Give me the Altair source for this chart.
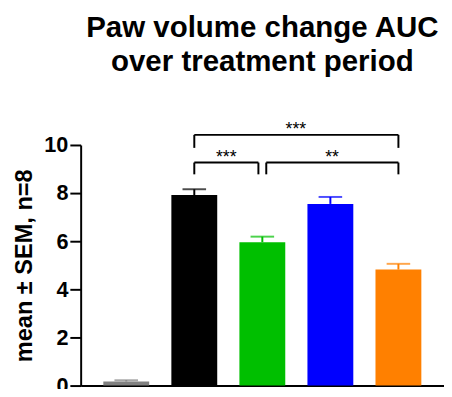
import altair as alt
import pandas as pd

groups = ["Naive", "Vehicle", "Treatment A", "Treatment B", "Treatment C"]
means = [0.17, 7.92, 5.96, 7.55, 4.82]
sems = [0.05, 0.24, 0.23, 0.29, 0.24]
colors = ["#808080", "#000000", "#00BF00", "#0000FF", "#FF8000"]

# significance brackets: (left group, right group, bar height, leg bottom, label, left px offset, right px offset)
brackets = [
    ("Vehicle", "Treatment C", 10.42, 9.88, "***", 0, 0),
    ("Vehicle", "Treatment A", 9.27, 8.78, "***", 0, -4),
    ("Treatment A", "Treatment C", 9.27, 8.78, "**", 4, 0),
]

df = pd.DataFrame({"group": groups, "mean": means, "sem": sems})
df["upper"] = df["mean"] + df["sem"]

FONT = "Liberation Sans"
STEP = 69

xscale = alt.Scale(domain=groups, paddingInner=0.326, paddingOuter=0.333)
yscale = alt.Scale(domain=[0, 10])
cscale = alt.Scale(domain=groups, range=colors)

x = alt.X("group:N", scale=xscale, sort=groups,
          axis=alt.Axis(title=None, labels=False, ticks=False, domainWidth=2, domainColor="black"))
y = alt.Y("mean:Q", scale=yscale,
          axis=alt.Axis(title="mean ± SEM, n=8", values=[0, 2, 4, 6, 8, 10], grid=False,
                        domainWidth=2, domainColor="black", tickWidth=2, tickColor="black",
                        tickSize=11, labelFont=FONT, labelFontSize=22, labelFontWeight="bold",
                        labelColor="black", labelPadding=2, titleFont=FONT, titleFontSize=24,
                        titleFontWeight="bold", titleColor="black", titlePadding=8))
color = alt.Color("group:N", scale=cscale, legend=None)

base = alt.Chart(df)
bars = base.mark_bar().encode(x=x, y=y, color=color)
stems = base.mark_rule(strokeWidth=2).encode(x=x, y="mean:Q", y2="upper:Q", color=color)
caps = base.mark_tick(size=24, thickness=2).encode(x=x, y="upper:Q", color=color)

layers = [bars, stems, caps]
for (g1, g2, top, low, lab, o1, o2) in brackets:
    bdf = pd.DataFrame({"g1": [g1], "g2": [g2], "top": [top], "low": [low], "lab": [lab],
                        "tx": [top + 0.18]})
    bc = alt.Chart(bdf)
    layers.append(bc.mark_rule(color="black", strokeWidth=2, xOffset=o1, x2Offset=o2).encode(
        x=alt.X("g1:N", scale=xscale), x2="g2:N", y=alt.Y("top:Q", scale=yscale)))
    layers.append(bc.mark_rule(color="black", strokeWidth=2, xOffset=o1).encode(
        x=alt.X("g1:N", scale=xscale), y=alt.Y("top:Q", scale=yscale), y2="low:Q"))
    layers.append(bc.mark_rule(color="black", strokeWidth=2, xOffset=o2).encode(
        x=alt.X("g2:N", scale=xscale), y=alt.Y("top:Q", scale=yscale), y2="low:Q"))
    dx = (groups.index(g2) - groups.index(g1)) / 2 * STEP + (o1 + o2) / 2
    layers.append(bc.mark_text(font=FONT, fontSize=18, color="black", dx=dx, baseline="middle").encode(
        x=alt.X("g1:N", scale=xscale), y=alt.Y("tx:Q", scale=yscale), text="lab:N"))

chart = alt.layer(*layers).properties(
    width=370, height=245,
    title=alt.TitleParams(text=["Paw volume change AUC", "over treatment period"], font=FONT,
                          fontSize=30, fontWeight="bold", color="black", anchor="middle",
                          frame="group", offset=46, lineHeight=34),
    autosize=alt.AutoSizeParams(type="none"),
    padding={"left": 74, "top": 136, "right": 0, "bottom": 0},
).configure_view(stroke=None)

chart.save("out.html", embed_options={"renderer": "svg", "actions": False})
